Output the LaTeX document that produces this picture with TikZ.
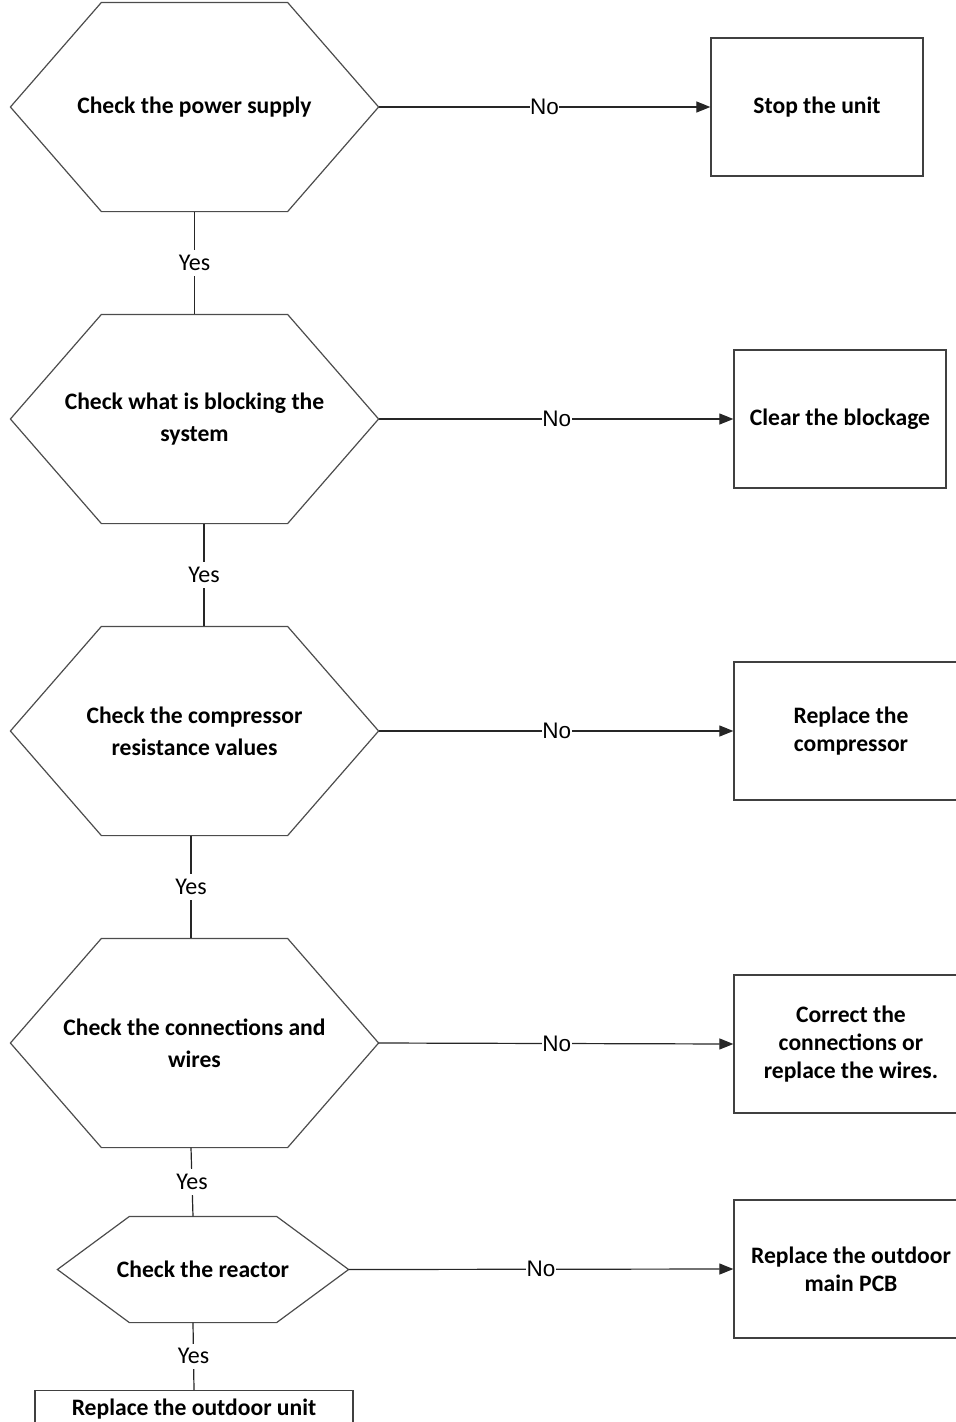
\documentclass[tikz,border=0pt]{standalone}
\usepackage{fontspec}
\setmainfont{Carlito}
\newfontfamily\labelfont{Liberation Sans}
\usetikzlibrary{arrows.meta}
\begin{document}
\begin{tikzpicture}[x=1pt,y=-1pt,
  line width=1.2pt,
  hexnode/.style={inner sep=0pt, align=center, font=\bfseries\fontsize{23.6}{32}\selectfont},
  actbox/.style={draw=black!75, line width=1.3pt, inner sep=0pt, align=center,
    minimum width=212pt, minimum height=138pt, font=\bfseries\fontsize{23.6}{28}\selectfont},
  yeslab/.style={fill=white, inner xsep=2pt, inner ysep=5pt, font=\fontsize{24}{26}\selectfont},
  nolab/.style={fill=white, inner xsep=0.5pt, inner ysep=2pt, font=\labelfont\fontsize{22.5}{24}\selectfont},
  flow/.style={draw=black!85, -{Triangle[length=14pt,width=11pt]}},
  link/.style={draw=black!85},
]
\useasboundingbox (0,0) rectangle (956,1422);
\clip (0,0) rectangle (956,1422);

% hexagon outline drawn around a decision node
\newcommand\hexoutline[2]{%
  \draw[draw=black!70] (#1.west) -- ([xshift=#2]#1.north west) -- ([xshift=-#2]#1.north east)
    -- (#1.east) -- ([xshift=-#2]#1.south east) -- ([xshift=#2]#1.south west) -- cycle;}

% decision nodes
\node[hexnode, minimum width=367pt, minimum height=208pt] (h1) at (194.5,107) {Check the power supply};
\node[hexnode, minimum width=367pt, minimum height=208pt] (h2) at (194.5,419) {Check what is blocking the\\system};
\node[hexnode, minimum width=367pt, minimum height=208pt] (h3) at (194.5,731) {Check the compressor\\resistance values};
\node[hexnode, minimum width=367pt, minimum height=208pt] (h4) at (194.5,1043) {Check the connections and\\wires};
\node[hexnode, minimum width=290pt, minimum height=105pt] (h5) at (203,1269.5) {Check the reactor};
\hexoutline{h1}{91}
\hexoutline{h2}{91}
\hexoutline{h3}{91}
\hexoutline{h4}{91}
\hexoutline{h5}{72}

% action boxes
\node[actbox] (b1) at (817,107) {Stop the unit};
\node[actbox] (b2) at (840,419) {Clear the blockage};
\node[actbox, minimum width=234pt] (b3) at (851,731) {Replace the\\compressor};
\node[actbox, minimum width=234pt] (b4) at (851,1044) {Correct the\\connections or\\replace the wires.};
\node[actbox, minimum width=234pt] (b5) at (851,1269) {Replace the outdoor\\main PCB};
\node[actbox, minimum width=318pt, minimum height=40pt, anchor=north] (b6) at (194,1390) {};
\node[font=\bfseries\fontsize{23.6}{26}\selectfont, inner sep=0pt] (b6t) at (194,1409) {Replace the outdoor unit};

% "No" branches
\draw[flow] (h1.east) -- node[nolab, pos=0.5] {No} (b1.west);
\draw[flow] (h2.east) -- node[nolab, pos=0.502] {No} (b2.west);
\draw[flow] (h3.east) -- node[nolab, pos=0.502] {No} (b3.west);
\draw[flow] (h4.east) -- node[nolab, pos=0.502] {No} (b4.west);
\draw[flow] (h5.east) -- node[nolab, pos=0.5] {No} (b5.west);

% "Yes" branches
\draw[link] (h1.south) -- node[yeslab] {Yes} (h2.north);
\draw[link] ([xshift=9.5pt]h2.south) -- node[yeslab] {Yes} ([xshift=9.5pt]h3.north);
\draw[link] ([xshift=-3.5pt]h3.south) -- node[yeslab] {Yes} ([xshift=-3.5pt]h4.north);
\draw[link] ([xshift=-3.5pt]h4.south) -- node[yeslab] {Yes} ([xshift=-10pt]h5.north);
\draw[link] ([xshift=-10pt]h5.south) -- node[yeslab] {Yes} (b6.north);
\end{tikzpicture}
\end{document}
